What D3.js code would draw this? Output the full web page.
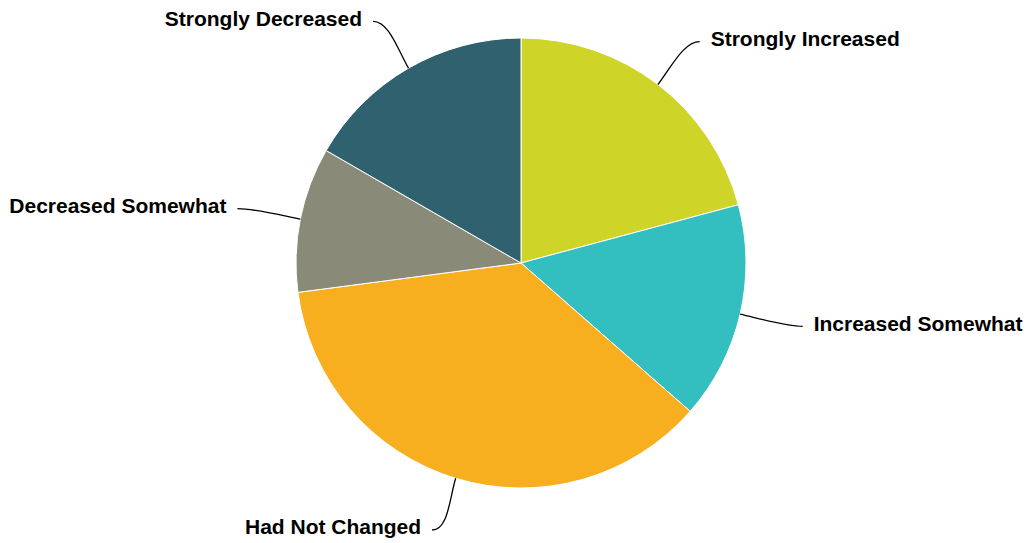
<!DOCTYPE html>
<html>
<head>
<meta charset="utf-8">
<script src="https://cdn.jsdelivr.net/npm/d3@7/dist/d3.min.js"></script>
<style>
  html, body { margin: 0; padding: 0; background: #ffffff; }
  svg { display: block; }
  text { font-family: "Liberation Sans", Arial, Helvetica, sans-serif; font-weight: bold; font-size: 21px; fill: #000; }
</style>
</head>
<body>
<svg id="chart" width="1029" height="543"></svg>
<script>
const categories = ["Strongly Increased", "Increased Somewhat", "Had Not Changed", "Decreased Somewhat", "Strongly Decreased"];
const values = [20, 15, 35, 10, 16];
const colors = ["#CFD528", "#33BEC0", "#F7AF1F", "#8A8A79", "#2F616E"];

const W = 1029, H = 543;
const cx = 521, cy = 263, r = 225;
const labelRx = 282, labelRy = 279, labelShift = 7;

const svg = d3.select("#chart");
const g = svg.append("g").attr("transform", `translate(${cx},${cy})`);

const data = categories.map((c, i) => ({ name: c, value: values[i], color: colors[i] }));
const pie = d3.pie().sort(null).value(d => d.value);
const arcs = pie(data);
const arc = d3.arc().innerRadius(0).outerRadius(r);

g.selectAll("path.slice")
  .data(arcs)
  .enter().append("path")
  .attr("class", "slice")
  .attr("d", arc)
  .attr("fill", d => d.data.color)
  .attr("stroke", "#ffffff")
  .attr("stroke-width", 1)
  .attr("stroke-linejoin", "round");

arcs.forEach(a => {
  const mid = (a.startAngle + a.endAngle) / 2;
  const sx = Math.sin(mid), sy = -Math.cos(mid);
  const ex = r * sx, ey = r * sy;
  const right = sx >= 0;
  const dir = right ? 1 : -1;
  const ax = labelRx * sx + dir * labelShift, ay = labelRy * sy;
  const path = d3.path();
  path.moveTo(ex, ey);
  path.bezierCurveTo(ex + sx * 22, ey + sy * 22, ax - dir * 16, ay, ax, ay);
  g.append("path")
    .attr("d", path.toString())
    .attr("fill", "none")
    .attr("stroke", "#000")
    .attr("stroke-width", 1.3);
  g.append("text")
    .attr("x", ax + dir * 11)
    .attr("y", ay - 3)
    .attr("dy", "0.35em")
    .attr("text-anchor", right ? "start" : "end")
    .text(a.data.name);
});
</script>
</body>
</html>
